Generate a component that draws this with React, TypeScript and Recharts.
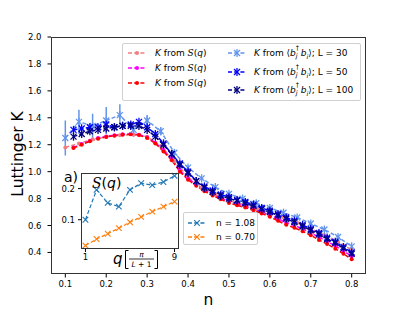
import React from "react";
import { LineChart, Line, XAxis, YAxis, ErrorBar } from "recharts";

// filling n for L = 30 and for the finer 0.02 grid
const nL30 = [0.1, 0.1333, 0.1667, 0.2, 0.2333, 0.2667, 0.3, 0.3333, 0.3667, 0.4, 0.4333, 0.4667, 0.5, 0.5333, 0.5667, 0.6, 0.6333, 0.6667, 0.7, 0.7333, 0.7667, 0.8];
const nGrid = [0.12, 0.14, 0.16, 0.18, 0.2, 0.22, 0.24, 0.26, 0.28, 0.3, 0.32, 0.34, 0.36, 0.38, 0.4, 0.42, 0.44, 0.46, 0.48, 0.5, 0.52, 0.54, 0.56, 0.58, 0.6, 0.62, 0.64, 0.66, 0.68, 0.7, 0.72, 0.74, 0.76, 0.78, 0.8];

// K from S(q)
const kSqL30 = [1.18, 1.21, 1.24, 1.26, 1.27, 1.275, 1.26, 1.19, 1.08, 0.96, 0.88, 0.83, 0.785, 0.755, 0.73, 0.695, 0.66, 0.62, 0.575, 0.53, 0.48, 0.42];
const kSqL50 = [1.18, 1.205, 1.23, 1.25, 1.262, 1.27, 1.278, 1.28, 1.275, 1.255, 1.215, 1.16, 1.095, 1.01, 0.95, 0.905, 0.865, 0.833, 0.805, 0.778, 0.76, 0.743, 0.724, 0.702, 0.678, 0.65, 0.622, 0.6, 0.575, 0.546, 0.513, 0.482, 0.449, 0.412, 0.372];
const kSqL100 = [1.175, 1.2, 1.225, 1.245, 1.258, 1.267, 1.275, 1.278, 1.272, 1.25, 1.21, 1.15, 1.085, 1.0, 0.94, 0.895, 0.855, 0.823, 0.795, 0.768, 0.75, 0.733, 0.713, 0.69, 0.665, 0.635, 0.605, 0.583, 0.557, 0.527, 0.493, 0.462, 0.428, 0.39, 0.35];

// K from <b_j^+ b_i>
const kBbL30 = [1.25, 1.37, 1.34, 1.38, 1.42, 1.31, 1.38, 1.3, 1.14, 1.03, 0.95, 0.885, 0.835, 0.8, 0.765, 0.73, 0.695, 0.66, 0.615, 0.57, 0.515, 0.445];
const kBbL30Err = [0.13, 0.09, 0.09, 0.1, 0.08, 0.05, 0.04, 0.03, 0.02, 0.015, 0.01, 0.01, 0.01, 0.01, 0.01, 0.01, 0.01, 0.01, 0.01, 0.01, 0.01, 0.01];
const kBbL50 = [1.31, 1.32, 1.33, 1.33, 1.35, 1.33, 1.34, 1.35, 1.37, 1.33, 1.28, 1.21, 1.13, 1.06, 1.0, 0.93, 0.89, 0.86, 0.83, 0.81, 0.79, 0.775, 0.755, 0.73, 0.71, 0.685, 0.66, 0.635, 0.605, 0.575, 0.545, 0.51, 0.48, 0.44, 0.4];
const kBbL100 = [1.26, 1.28, 1.3, 1.31, 1.32, 1.33, 1.34, 1.34, 1.34, 1.31, 1.26, 1.2, 1.13, 1.05, 0.99, 0.93, 0.88, 0.85, 0.82, 0.8, 0.785, 0.765, 0.745, 0.72, 0.7, 0.675, 0.65, 0.625, 0.595, 0.565, 0.535, 0.5, 0.47, 0.43, 0.39];

// inset: S(q)
const qValues = [1, 2, 3, 4, 5, 6, 7, 8, 9];
const sq108 = [0.1, 0.196, 0.154, 0.142, 0.196, 0.217, 0.211, 0.221, 0.241];
const sq070 = [0.017, 0.038, 0.055, 0.073, 0.092, 0.109, 0.126, 0.142, 0.158];

const xTicks = [0.1, 0.2, 0.3, 0.4, 0.5, 0.6, 0.7, 0.8];
const yTicks = [0.4, 0.6, 0.8, 1.0, 1.2, 1.4, 1.6, 1.8, 2.0];
const insetXTicks = [1, 9];
const insetYTicks = [0.1, 0.2];

const FONT = "DejaVu Sans";

const rows = (xs: number[], ks: number[], errs?: number[]) =>
  xs.map((n, i) => ({ n, k: ks[i], err: errs ? errs[i] : 0 }));

const sqSeries = [
  { name: "L30", color: "#f08080", data: rows(nL30, kSqL30) },
  { name: "L50", color: "#ff00ff", data: rows(nGrid, kSqL50) },
  { name: "L100", color: "#ff0000", data: rows(nGrid, kSqL100) },
];
const bbSeries = [
  { name: "30", color: "#6495ed", data: rows(nL30, kBbL30, kBbL30Err) },
  { name: "50", color: "#0000ff", data: rows(nGrid, kBbL50) },
  { name: "100", color: "#000080", data: rows(nGrid, kBbL100) },
];
const insetSeries = [
  { name: "1.08", color: "#1f77b4", data: qValues.map((q, i) => ({ q, s: sq108[i] })) },
  { name: "0.70", color: "#ff7f0e", data: qValues.map((q, i) => ({ q, s: sq070[i] })) },
];

function Asterisk({ cx, cy, color, r = 3 }: any) {
  return (
    <g stroke={color} strokeWidth={1.3}>
      <line x1={cx - r} y1={cy - r} x2={cx + r} y2={cy + r} />
      <line x1={cx - r} y1={cy + r} x2={cx + r} y2={cy - r} />
      <line x1={cx} y1={cy - r * 1.35} x2={cx} y2={cy + r * 1.35} />
    </g>
  );
}

function Cross({ cx, cy, color, r = 2.8 }: any) {
  return (
    <g stroke={color} strokeWidth={1.1}>
      <line x1={cx - r} y1={cy - r} x2={cx + r} y2={cy + r} />
      <line x1={cx - r} y1={cy + r} x2={cx + r} y2={cy - r} />
    </g>
  );
}

const starDot = (color: string) => (p: any) => {
  if (p.cx == null || p.cy == null) return <g key={`s-${p.index}`} />;
  return <Asterisk key={`s-${p.index}`} cx={p.cx} cy={p.cy} color={color} />;
};
const crossDot = (color: string) => (p: any) => {
  if (p.cx == null || p.cy == null) return <g key={`c-${p.index}`} />;
  return <Cross key={`c-${p.index}`} cx={p.cx} cy={p.cy} color={color} />;
};

function Handle({ color, kind }: { color: string; kind: "dot" | "star" | "cross" }) {
  return (
    <svg width={20} height={12} style={{ display: "block" }}>
      <line x1={1} y1={6} x2={19} y2={6} stroke={color} strokeWidth={1.5} strokeDasharray="4 2.2" />
      {kind === "dot" && <circle cx={10} cy={6} r={2} fill={color} />}
      {kind === "star" && <Asterisk cx={10} cy={6} color={color} />}
      {kind === "cross" && <Cross cx={10} cy={6} color={color} />}
    </svg>
  );
}

function SqText() {
  return (
    <span>
      <i>K</i> from <i style={{ fontFamily: "DejaVu Serif" }}>S</i>(<i>q</i>)
    </span>
  );
}

function BbText({ L }: { L: string }) {
  return (
    <span>
      <i>K</i> from ⟨<i>b</i>
      <span style={{ display: "inline-block", position: "relative", width: 5, height: 8 }}>
        <span style={{ position: "absolute", left: 0, top: -4, fontSize: 6.5 }}>†</span>
        <i style={{ position: "absolute", left: 0, top: 4, fontSize: 6.5 }}>j</i>
      </span>
      <i>b</i>
      <i style={{ fontSize: 6.5, position: "relative", top: 3 }}>i</i>⟩; L = {L}
    </span>
  );
}

export default function App() {
  const col1Y = [52.3, 66.7, 81.7];
  const col2Y = [52.3, 70.7, 89.3];
  return (
    <div style={{ position: "absolute", left: 0, top: 0, width: 407, height: 312, background: "#fff", fontFamily: FONT }}>
      <div style={{ position: "absolute", left: 0, top: 0 }}>
        <LineChart width={407} height={312} margin={{ top: 37, right: 41, bottom: 0, left: 0 }}>
          <XAxis
            dataKey="n"
            type="number"
            domain={[0.065, 0.835]}
            allowDataOverflow
            ticks={xTicks}
            tickFormatter={(v: number) => v.toFixed(1)}
            height={38}
            axisLine={false}
            tickSize={3.5}
            tickMargin={3}
            tickLine={{ stroke: "#000" }}
            tick={{ fontSize: 8.5, fill: "#000", fontFamily: FONT }}
          />
          <YAxis
            dataKey="k"
            type="number"
            domain={[0.24, 2.0]}
            allowDataOverflow
            ticks={yTicks}
            tickFormatter={(v: number) => v.toFixed(1)}
            width={51}
            axisLine={false}
            tickSize={3.5}
            tickMargin={6}
            tickLine={{ stroke: "#000" }}
            tick={{ fontSize: 8.5, fill: "#000", fontFamily: FONT }}
          />
          {sqSeries.map((s) => (
            <Line
              key={s.name}
              data={s.data}
              dataKey="k"
              stroke={s.color}
              strokeWidth={1.5}
              strokeDasharray="4 2.2"
              dot={{ r: 2, fill: s.color, stroke: "none" }}
              isAnimationActive={false}
            />
          ))}
          {bbSeries.map((s) => (
            <Line
              key={s.name}
              data={s.data}
              dataKey="k"
              stroke={s.color}
              strokeWidth={1.5}
              strokeDasharray="4 2.2"
              dot={starDot(s.color)}
              isAnimationActive={false}
            >
              <ErrorBar dataKey="err" direction="y" width={0} stroke={s.color} strokeWidth={1.5} />
            </Line>
          ))}
        </LineChart>
      </div>

      {/* main frame */}
      <div style={{ position: "absolute", left: 51, top: 37, width: 315, height: 237, border: "1px solid #333", boxSizing: "border-box" }} />

      {/* inset background + frame */}
      <div style={{ position: "absolute", left: 81, top: 173, width: 98, height: 76, background: "#fff" }} />
      <div style={{ position: "absolute", left: 0, top: 0 }}>
        <LineChart width={407} height={312} margin={{ top: 173, right: 228, bottom: 0, left: 0 }}>
          <XAxis
            dataKey="q"
            type="number"
            domain={[0.6, 9.4]}
            ticks={insetXTicks}
            height={63}
            axisLine={false}
            tickSize={3}
            tickMargin={2}
            tickLine={{ stroke: "#000" }}
            tick={{ fontSize: 8.5, fill: "#000", fontFamily: FONT }}
          />
          <YAxis
            dataKey="s"
            type="number"
            domain={[0.006, 0.25]}
            ticks={insetYTicks}
            tickFormatter={(v: number) => v.toFixed(1)}
            width={81}
            axisLine={false}
            tickSize={3}
            tickMargin={3}
            tickLine={{ stroke: "#000" }}
            tick={{ fontSize: 8.5, fill: "#000", fontFamily: FONT }}
          />
          {insetSeries.map((s) => (
            <Line
              key={s.name}
              data={s.data}
              dataKey="s"
              stroke={s.color}
              strokeWidth={1.2}
              strokeDasharray="4 2.2"
              dot={crossDot(s.color)}
              isAnimationActive={false}
            />
          ))}
        </LineChart>
      </div>
      <div style={{ position: "absolute", left: 81, top: 173, width: 98, height: 76, border: "1px solid #333", boxSizing: "border-box" }} />

      {/* axis labels and inset annotations */}
      <svg width={407} height={312} style={{ position: "absolute", left: 0, top: 0, pointerEvents: "none" }} fontFamily={FONT}>
        <text x={208.5} y={305} fontSize={15.5} textAnchor="middle" fill="#000">n</text>
        <text x={23} y={154} fontSize={15.5} textAnchor="middle" fill="#000" transform="rotate(-90 23 154)">Luttinger K</text>
        <text x={64} y={182} fontSize={14} fill="#000">a)</text>
        <text x={92} y={188} fontSize={14} fill="#000">
          <tspan fontFamily="DejaVu Serif" fontStyle="italic">S</tspan>(<tspan fontStyle="italic">q</tspan>)
        </text>
        <text x={113} y={264} fontSize={15} fontStyle="italic" fill="#000">q</text>
        <path d="M128.5,250.5 H125.5 V268.5 H128.5" fill="none" stroke="#000" strokeWidth={1} />
        <path d="M154.5,250.5 H157.5 V268.5 H154.5" fill="none" stroke="#000" strokeWidth={1} />
        <text x={141.5} y={257} fontSize={7.5} fontStyle="italic" textAnchor="middle" fill="#000">π</text>
        <line x1={129} y1={259} x2={154} y2={259} stroke="#000" strokeWidth={0.8} />
        <text x={141.5} y={267} fontSize={7.5} textAnchor="middle" fill="#000">
          <tspan fontStyle="italic">L</tspan> + 1
        </text>
      </svg>

      {/* main legend */}
      <div style={{ position: "absolute", left: 122, top: 43, width: 239, height: 58, border: "1px solid #d0d0d0", borderRadius: 2, background: "rgba(255,255,255,0.8)", boxSizing: "border-box", fontSize: 9, color: "#000" }}>
        {sqSeries.map((s, i) => (
          <div key={s.name} style={{ position: "absolute", left: 4, top: col1Y[i] - 43 - 6, display: "flex", alignItems: "center", whiteSpace: "nowrap", height: 12 }}>
            <Handle color={s.color} kind="dot" />
            <span style={{ marginLeft: 8 }}><SqText /></span>
          </div>
        ))}
        {bbSeries.map((s, i) => (
          <div key={s.name} style={{ position: "absolute", left: 104, top: col2Y[i] - 43 - 6, display: "flex", alignItems: "center", whiteSpace: "nowrap", height: 12 }}>
            <Handle color={s.color} kind="star" />
            <span style={{ marginLeft: 7 }}><BbText L={s.name} /></span>
          </div>
        ))}
      </div>

      {/* inset legend */}
      <div style={{ position: "absolute", left: 183, top: 212, width: 75, height: 33, border: "1px solid #d0d0d0", borderRadius: 2, background: "#fff", boxSizing: "border-box", fontSize: 9, color: "#000" }}>
        {insetSeries.map((s, i) => (
          <div key={s.name} style={{ position: "absolute", left: 3, top: 3.5 + i * 14, display: "flex", alignItems: "center", whiteSpace: "nowrap", height: 12 }}>
            <Handle color={s.color} kind="cross" />
            <span style={{ marginLeft: 9 }}>n = {s.name}</span>
          </div>
        ))}
      </div>
    </div>
  );
}
